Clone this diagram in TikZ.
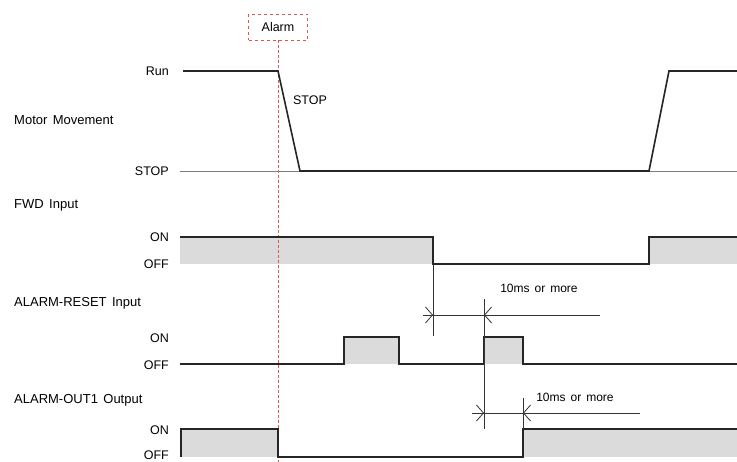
\documentclass[tikz,border=0pt]{standalone}
\usepackage{fontspec}
\setmainfont{Liberation Sans}[WordSpace=1.5]
\usetikzlibrary{arrows.meta}
\definecolor{sigfill}{gray}{0.86}
\definecolor{alarmred}{RGB}{214,90,80}
\begin{document}
\begin{tikzpicture}[x=1pt, y=-1pt, font=\fontsize{12.5}{14}\selectfont,
  wave/.style={line width=1.6pt, black!85, line join=miter},
  dimline/.style={line width=0.8pt, black!80},
  dimtip/.style={dimline, -{Straight Barb[length=7pt, width=16pt]}}]
\useasboundingbox (0,0) rectangle (737,462);
% signal names
\foreach \y/\l in {120/Motor Movement,205/FWD Input,303/ALARM-RESET Input,400/ALARM-OUT1 Output}
    \node[right, inner sep=0pt, font=\fontsize{13}{15}\selectfont] (sig\y) at (14,\y) {\l};
% level names
\foreach \y/\l in {71/Run,171/STOP,237/ON,264/OFF,338/ON,365/OFF,430/ON,455/OFF}
    \node[left, inner sep=0pt] (lvl\y) at (169,\y) {\l};
% grey fills
\fill[sigfill] (180,237) rectangle (433,264);
\fill[sigfill] (649,237) rectangle (737,264);
\fill[sigfill] (344,337) rectangle (399,364);
\fill[sigfill] (484,337) rectangle (523,364);
\fill[sigfill] (181,429) rectangle (278,457);
\fill[sigfill] (523,429) rectangle (737,457);
% alarm
\node[draw=alarmred, dashed, minimum width=59pt, minimum height=26pt] (alarm) at (278,27) {Alarm};
\coordinate (alarmend) at (278,462);
\draw[alarmred, densely dashed] (alarm.south) -- (alarmend);
% motor movement
\draw[gray, line width=0.8pt] (180,171) -- (737,171);
\draw[wave] (183,71) -- (278,71) -- (300,171) -- (649,171) -- (669,71) -- (737,71);
\node (stoptxt) at (310,100) {STOP};
% FWD input
\draw[wave] (180,237) -- (433,237) -- (433,264) -- (649,264) -- (649,237) -- (737,237);
% ALARM-RESET input
\draw[wave] (180,364) -| (344,337) -| (399,364) -| (484,337) -| (523,364) -- (737,364);
% ALARM-OUT1 output
\draw[wave] (181,457) -- (181,429) -- (278,429) -- (278,457) -- (523,457) -- (523,429) -- (737,429);
% 10ms dimensions
\coordinate (fwdoff) at (433,315);
\coordinate (rston) at (484,315);
\coordinate (rston2) at (484,413);
\coordinate (outon) at (523,413);
\draw[dimline] (433,264) -- (433,336);
\draw[dimline] (484,299) -- (484,429);
\draw[dimline] (523,398) -- (523,429);
\draw[dimline] (423,315) -- (600,315);
\draw[dimline] (472,413) -- (640,413);
\draw[dimtip] (423,315) -- (fwdoff);
\draw[dimtip] (494,315) -- (rston);
\draw[dimtip] (472,413) -- (rston2);
\draw[dimtip] (533,413) -- (outon);
\node[font=\fontsize{12}{14}\selectfont] (dimtxt1) at (539,288) {10ms or more};
\node[font=\fontsize{12}{14}\selectfont] (dimtxt2) at (575,397) {10ms or more};
\end{tikzpicture}
\end{document}
